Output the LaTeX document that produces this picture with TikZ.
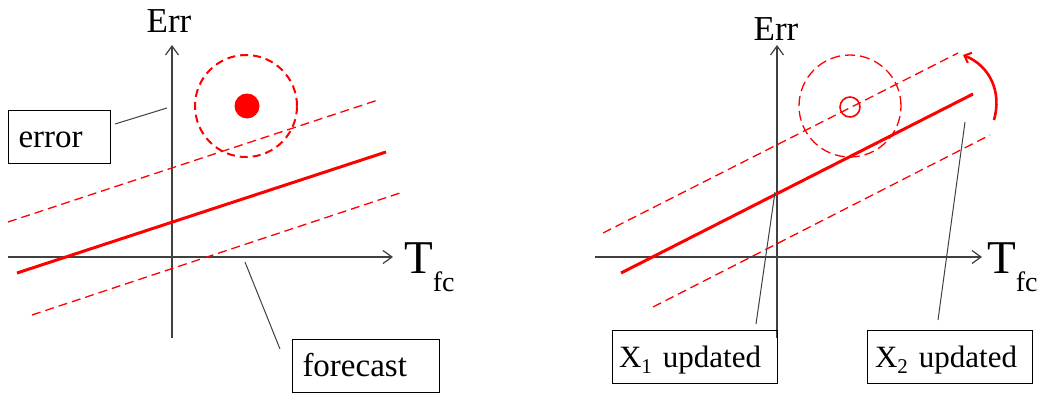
\documentclass[tikz,border=0pt]{standalone}
\usepackage{fontspec}
\setmainfont{Liberation Serif}
\usetikzlibrary{arrows.meta}
\definecolor{axisgray}{HTML}{404040}
\definecolor{lblred}{HTML}{FF0000}
\tikzset{
  axis/.style={draw=axisgray, line width=1.3pt, -{Straight Barb[length=9pt,width=13pt,line width=1.2pt]}},
  fcline/.style={draw=lblred, line width=3pt},
  bandline/.style={draw=lblred, line width=1.3pt, dash pattern=on 9pt off 5pt},
  bigcircleL/.style={draw=lblred, line width=2pt, dash pattern=on 8pt off 5pt},
  bigcircleR/.style={draw=lblred, line width=1.3pt, dash pattern=on 10pt off 5pt},
  leader/.style={draw=axisgray, line width=1pt},
  lblbox/.style={draw=black, line width=1pt, anchor=north west, minimum height=53pt,
    text height=24pt, text depth=4pt, align=left, font=\fontsize{33}{36}\selectfont},
  errlbl/.style={anchor=base, font=\fontsize{35}{38}\selectfont, inner sep=0pt},
  tlbl/.style={anchor=base west, font=\fontsize{47}{50}\selectfont, inner sep=0pt},
}
\newcommand{\tfclabel}{T\raisebox{-18pt}{\fontsize{28}{30}\selectfont fc}}
\newcommand{\xupd}[1]{\mbox{\fontsize{31}{34}\selectfont X\raisebox{-6pt}{\fontsize{21}{24}\selectfont #1} updated}}
\begin{document}
\begin{tikzpicture}[x=1pt,y=-1pt]
\useasboundingbox (0,0) rectangle (1043,394);
\fill[white] (0,0) rectangle (1043,394);

% ===== Left panel =====
\coordinate (Lyb) at (172,338);
\coordinate (Lyt) at (172,45);
\coordinate (Lxl) at (8,257);
\coordinate (Lxr) at (393,257);
\draw[axis] (Lyb) -- (Lyt);
\draw[axis] (Lxl) -- (Lxr);
\node[errlbl] (LErr) at (169,32) {Err};
\node[tlbl] (LT) at (404,273) {\tfclabel};

\coordinate (Lua) at (8,222);
\coordinate (Lub) at (378,100);
\coordinate (Lsa) at (17,273);
\coordinate (Lsb) at (386,152);
\coordinate (Lla) at (32,315);
\coordinate (Llb) at (403,192);
\draw[bandline] (Lua) -- (Lub);
\draw[fcline] (Lsa) -- (Lsb);
\draw[bandline] (Lla) -- (Llb);

\node[bigcircleL, circle, minimum size=102pt, inner sep=0pt] (Lcirc) at (246,106) {};
\node[fill=lblred, circle, minimum size=25pt, inner sep=0pt] (Ldot) at (247,106) {};

\node[lblbox, minimum width=102pt, text width=82pt, inner xsep=10pt] (errbox) at (8,110) {error};
\node[lblbox, minimum width=147pt, text width=127pt, inner xsep=10pt] (fcbox) at (292,339) {forecast};

\coordinate (errA) at (115,124);
\coordinate (errB) at (167,108);
\draw[leader] (errA) -- (errB);
\coordinate (fcA) at (280,349);
\coordinate (fcB) at (245,262);
\draw[leader] (fcA) -- (fcB);

% ===== Right panel =====
\coordinate (Ryb) at (777,338);
\coordinate (Ryt) at (777,45);
\coordinate (Rxl) at (595,257);
\coordinate (Rxr) at (982,257);
\draw[axis] (Ryb) -- (Ryt);
\draw[axis] (Rxl) -- (Rxr);
\node[errlbl] (RErr) at (776,40) {Err};
\node[tlbl] (RT) at (987,273) {\tfclabel};

\coordinate (Rua) at (603,233);
\coordinate (Rub) at (958,53);
\coordinate (Rsa) at (621,273);
\coordinate (Rsb) at (973,94);
\coordinate (Rla) at (653,307);
\coordinate (Rlb) at (990,135);
\draw[bandline] (Rua) -- (Rub);
\draw[fcline] (Rsa) -- (Rsb);
\draw[bandline] (Rla) -- (Rlb);

\node[bigcircleR, circle, minimum size=102pt, inner sep=0pt] (Rcirc) at (850,106) {};
\node[draw=lblred, line width=1.6pt, circle, minimum size=20pt, inner sep=0pt] (Rdot) at (850,107) {};

\coordinate (rotA) at (994,120);
\coordinate (rotB) at (963,55);
\draw[draw=lblred, line width=2.6pt, -{Straight Barb[length=6pt,width=11pt,line width=2pt]}]
  (rotA) .. controls (1002,92) and (990,66) .. (rotB);

\node[lblbox, minimum width=165pt, text width=152pt, inner xsep=6.5pt] (x1box) at (612,330) {\xupd{1}};
\node[lblbox, minimum width=165pt, text width=150pt, inner xsep=7.5pt] (x2box) at (867,330) {\xupd{2}};

\coordinate (x1A) at (756,324);
\coordinate (x1B) at (775,192);
\draw[leader] (x1A) -- (x1B);
\coordinate (x2A) at (938,320);
\coordinate (x2B) at (965,122);
\draw[leader] (x2A) -- (x2B);
\end{tikzpicture}
\end{document}
